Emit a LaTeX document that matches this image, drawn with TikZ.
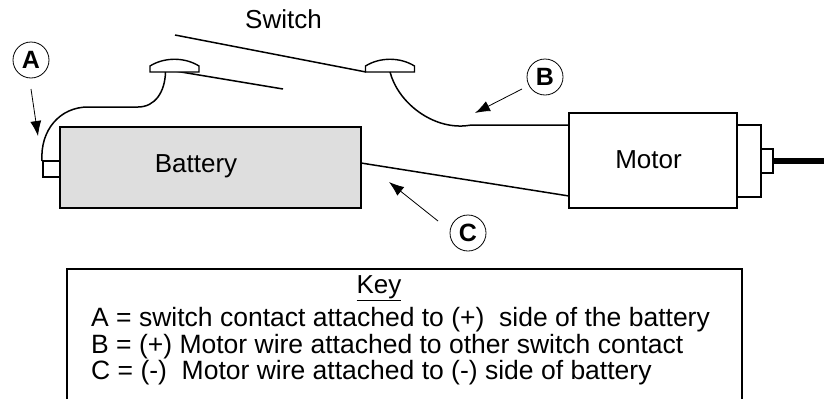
\documentclass[tikz,border=0pt]{standalone}
\usepackage{fontspec}
\setmainfont{Liberation Sans}
\usetikzlibrary{arrows.meta}
\newcommand{\figuresize}{1pt}
\newcommand{\makecontact}[2]{
	\fill[white, draw=black, line width=1.4pt] (#1-24.5,#2) -- ++(0,-6) .. controls (#1-10,#2-15) and (#1+10,#2-15) .. (#1+24.5,#2-6) -- (#1+24.5,#2) -- cycle;
}
\tikzset{
	wire/.style={line width=1.5pt},
	box/.style={draw, line width=1.6pt, inner sep=0pt},
	lbl/.style={font=\fontsize{26}{28}\selectfont, inner sep=0pt, anchor=base},
	keyline/.style={font=\fontsize{26.5}{28}\selectfont, inner sep=0pt, anchor=base west},
	tag/.style={draw, circle, line width=0.8pt, minimum size=36pt, inner sep=0pt, font=\fontsize{25}{27}\selectfont\bfseries},
	pointer/.style={line width=0.8pt, -{Latex[length=15pt,width=11pt]}}
}

\begin{document}
\begin{tikzpicture}[x=\figuresize,y=-\figuresize]
	\useasboundingbox (0,0) rectangle (824,399);

	\node[box, fill=black!13, minimum width=301pt, minimum height=81pt] (battery) at (210.5,167.5) {};
	\node[box, minimum width=17pt, minimum height=16pt] (terminal) at (51.5,169) {};
	\node[box, minimum width=168pt, minimum height=95pt] (motor) at (653,160.5) {};
	\node[box, minimum width=24pt, minimum height=72pt] (housing) at (749,161) {};
	\node[box, minimum width=12pt, minimum height=24pt] (stub) at (767,161) {};

	\coordinate (contactL) at (165.5,72);
	\coordinate (contactR) at (390,72);
	\coordinate (armLa) at (175,71);
	\coordinate (armLb) at (283,89);
	\coordinate (armRa) at (175,35);
	\coordinate (armRb) at (366,72);
	\coordinate (shaftEnd) at (824,161);
	\coordinate (motorIn) at (569,125);
	\coordinate (motorOut) at (569,196);
	\coordinate (batteryOut) at (361,163);
	\coordinate (terminalTop) at (42,161);

	\draw[wire] (armLa) -- (armLb);
	\draw[wire] (armRa) -- (armRb);
	\makecontact{174.5}{72}
	\makecontact{390}{72}

	\draw[wire] (terminalTop) .. controls (40,130) and (60,107) .. (88,107) -- (138,107) .. controls (155,107) and (165,92) .. (contactL);
	\draw[wire] (contactR) .. controls (398,102) and (430,127) .. (462,126) .. controls (466,126) and (470,125) .. (473,125) -- (motorIn);
	\draw[wire] (batteryOut) -- (motorOut);
	\draw[line width=6pt] (stub.east) -- (shaftEnd);

	\node[lbl] (switch) at (283.5,28) {Switch};
	\node[lbl] (batterylabel) at (196,172) {Battery};
	\node[lbl] (motorlabel) at (648.5,168) {Motor};

	\node[tag] (tagA) at (31,60) {A};
	\node[tag] (tagB) at (545,77) {B};
	\node[tag] (tagC) at (468,233) {C};
	\coordinate (tipA) at (38,136);
	\coordinate (tipB) at (475,113);
	\coordinate (tipC) at (389,182);
	\draw[pointer] (31,89) -- (tipA);
	\draw[pointer] (522,89) -- (tipB);
	\draw[pointer] (438,221) -- (tipC);

	\draw[line width=1.6pt] (67,399) -- (67,269) -- (742,269) -- (742,399);
	\node[lbl] (key) at (379,293) {\underline{Key}};
	\node[keyline] (keyA) at (91,326) {A = switch contact attached to (+)~ side of the battery};
	\node[keyline] (keyB) at (91,353) {B = (+) Motor wire attached to other switch contact};
	\node[keyline] (keyC) at (91,379) {C = (-)~ Motor wire attached to (-) side of battery};
\end{tikzpicture}
\end{document}
